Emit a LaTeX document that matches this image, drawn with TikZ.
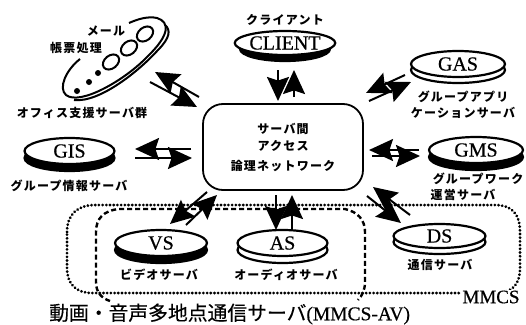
\documentclass[tikz,border=0pt]{standalone}
\usepackage{fontspec}
\setmainfont[FakeBold=0.5]{Liberation Serif}
\newfontfamily\cjk[LetterSpace=10]{Noto Sans CJK JP}
\newfontfamily\cjkt[FakeBold=0.3]{Noto Sans CJK JP}
\usetikzlibrary{arrows.meta,shapes.geometric}
\newcommand{\dn}[2]{\raisebox{-#1pt}{#2}}
\tikzset{
  disktop/.style={ellipse,draw,line width=2.2pt,fill=white,inner sep=0pt,minimum width=#1,minimum height=26pt,font=\fontsize{20}{20}\selectfont},
  diskwhite/.style={ellipse,draw,line width=2.2pt,fill=white,inner sep=0pt,minimum width=#1,minimum height=26pt},
  diskblack/.style={ellipse,draw,line width=2.2pt,fill=black,inner sep=0pt,minimum width=#1,minimum height=26pt},
  lab/.style={font=\cjk\bfseries\fontsize{12}{12}\selectfont,inner sep=0pt},
  flow/.style={line width=2pt,-{Stealth[length=24pt,width=22pt,inset=3.5pt]}},
  dotbox/.style={line width=3pt,line cap=round,dash pattern=on 0.1pt off 3.6pt},
  dashbox/.style={line width=2.4pt,dash pattern=on 5pt off 3pt},
  netbox/.style={draw,line width=1.8pt,rounded corners=20pt,fill=white,minimum width=160pt,minimum height=86pt,align=center,font=\cjk\bfseries\fontsize{12}{12}\selectfont},
  officeline/.style={line width=2pt},
  officering/.style={ellipse,draw,line width=2pt,minimum width=18pt,minimum height=13pt,inner sep=0pt,rotate=38},
  officedot/.style={circle,fill=black,minimum size=6pt,inner sep=0pt}
}
\begin{document}
\begin{tikzpicture}[x=1pt,y=-1pt]
\useasboundingbox (0,0) rectangle (526,324);
\fill[white] (0,0) rectangle (526,324);
% dotted and dashed groups
\draw[dotbox] (67,232) .. controls (67,214) and (78,205) .. (95,205) -- (495,205) .. controls (512,205) and (520,214) .. (520,232) -- (520,268) .. controls (520,285) and (512,293) .. (495,293) -- (92,293) .. controls (76,293) and (67,284) .. (67,268) -- cycle;
\draw[dashbox] (110,301) .. controls (101,298) and (96,292) .. (96,282) -- (96,232) .. controls (96,218) and (104,211) .. (118,209) -- (345,209) .. controls (358,212) and (365,220) .. (365,232) -- (365,282) .. controls (365,290) and (362,296) .. (358,300);
% central network box
\node[netbox] (net) at (283,147) {サーバ間\\[5pt]アクセス\\[8pt]論理ネットワーク};
% disks
\node[diskblack=90pt,minimum height=24pt] (clientb) at (285,49) {};
\node[disktop=90pt,minimum height=24pt] (client) at (285,43) {\dn{1.5}{CLIENT}};
\node[diskwhite=94pt] (gasb) at (458,70) {};
\node[disktop=94pt] (gas) at (458,64) {\dn{2.5}{GAS}};
\node[diskblack=94pt] (gmsb) at (476,157) {};
\node[disktop=94pt] (gms) at (476,150) {\dn{2.5}{GMS}};
\node[diskblack=90pt] (gisb) at (69.5,158) {};
\node[disktop=90pt] (gis) at (69.5,151) {\dn{3}{GIS}};
\node[diskblack=92pt] (vsb) at (161,250) {};
\node[disktop=92pt] (vs) at (161,243) {\dn{3}{VS}};
\node[diskwhite=90pt] (asb) at (282.5,250) {};
\node[disktop=90pt] (as) at (282.5,243) {\dn{2.5}{AS}};
\node[diskwhite=92pt,minimum height=24pt] (dsb) at (439.5,242) {};
\node[disktop=92pt,minimum height=24pt] (ds) at (439.5,236) {DS};
% office group
\draw[officeline] (80,59) .. controls (66,70) and (58,88) .. (66,95) .. controls (80,106) and (125,80) .. (147,57) .. controls (170,35) and (170,22) .. (157,18) .. controls (148,16) and (138,19) .. (129,23);
\draw[officeline] (74,100) .. controls (100,103) and (140,70) .. (158,50) .. controls (170,38) and (171,30) .. (165,25);
\node[officering] (r1) at (145,34) {};
\node[officering] (r2) at (129,48) {};
\node[officering] (r3) at (111,62) {};
\node[officedot] (d1) at (98,73) {};
\node[officedot] (d2) at (89,82) {};
\node[officedot] (d3) at (77,91) {};
% labels
\node[lab] (lmail) at (106,31) {メール};
\node[lab] (lform) at (76,48) {帳票処理};
\node[lab] (loff) at (82,113) {オフィス支援サーバ群};
\node[lab] (lcli) at (285,20) {クライアント};
\node[lab] (lgas1) at (463,97) {グループアプリ};
\node[lab] (lgas2) at (463,113) {ケーションサーバ};
\node[lab] (lgis) at (69,186) {グループ情報サーバ};
\node[lab] (lgms1) at (478,179) {グループワーク};
\node[lab] (lgms2) at (463,195) {運営サーバ};
\node[lab] (lvs) at (159,275) {ビデオサーバ};
\node[lab] (las) at (286,275) {オーディオサーバ};
\node[lab] (lds) at (440,265) {通信サーバ};
\node[fill=white,inner sep=1pt,font=\fontsize{19}{19}\selectfont] (mmcs) at (491,297) {MMCS};
\node[inner sep=0pt,anchor=west] (title) at (49,314) {\cjkt\fontsize{19.8}{19.8}\selectfont 動画・音声多地点通信サーバ\fontsize{19.5}{19.5}\rmfamily(MMCS-AV)};
% connector ends
\coordinate (c1) at (278,70); \coordinate (c2) at (278,101);
\coordinate (c3) at (294,97); \coordinate (c4) at (294,70);
\coordinate (o1) at (150,82); \coordinate (o2) at (197,107);
\coordinate (o3) at (199,97); \coordinate (o4) at (155,72);
\coordinate (g1) at (191,149); \coordinate (g2) at (135,149);
\coordinate (g3) at (135,158); \coordinate (g4) at (192,158);
\coordinate (a1) at (405,75); \coordinate (a2) at (366,93);
\coordinate (a3) at (369,101); \coordinate (a4) at (411,82);
\coordinate (m1) at (419,150); \coordinate (m2) at (369,150);
\coordinate (m3) at (372,156); \coordinate (m4) at (420,156);
\coordinate (v1) at (207,192); \coordinate (v2) at (170,224);
\coordinate (v3) at (186,225); \coordinate (v4) at (217,195);
\coordinate (s1) at (276,195); \coordinate (s2) at (276,230);
\coordinate (s3) at (292,230); \coordinate (s4) at (292,195);
\coordinate (e1) at (410,215); \coordinate (e2) at (373,187);
\coordinate (e3) at (367,196); \coordinate (e4) at (401,223);
\foreach \p/\q in {c1/c2,c3/c4,o1/o2,o3/o4,g1/g2,g3/g4,a1/a2,a3/a4,m1/m2,m3/m4,v1/v2,v3/v4,s1/s2,s3/s4,e1/e2,e3/e4}
  \draw[flow] (\p) -- (\q);
\end{tikzpicture}
\end{document}
